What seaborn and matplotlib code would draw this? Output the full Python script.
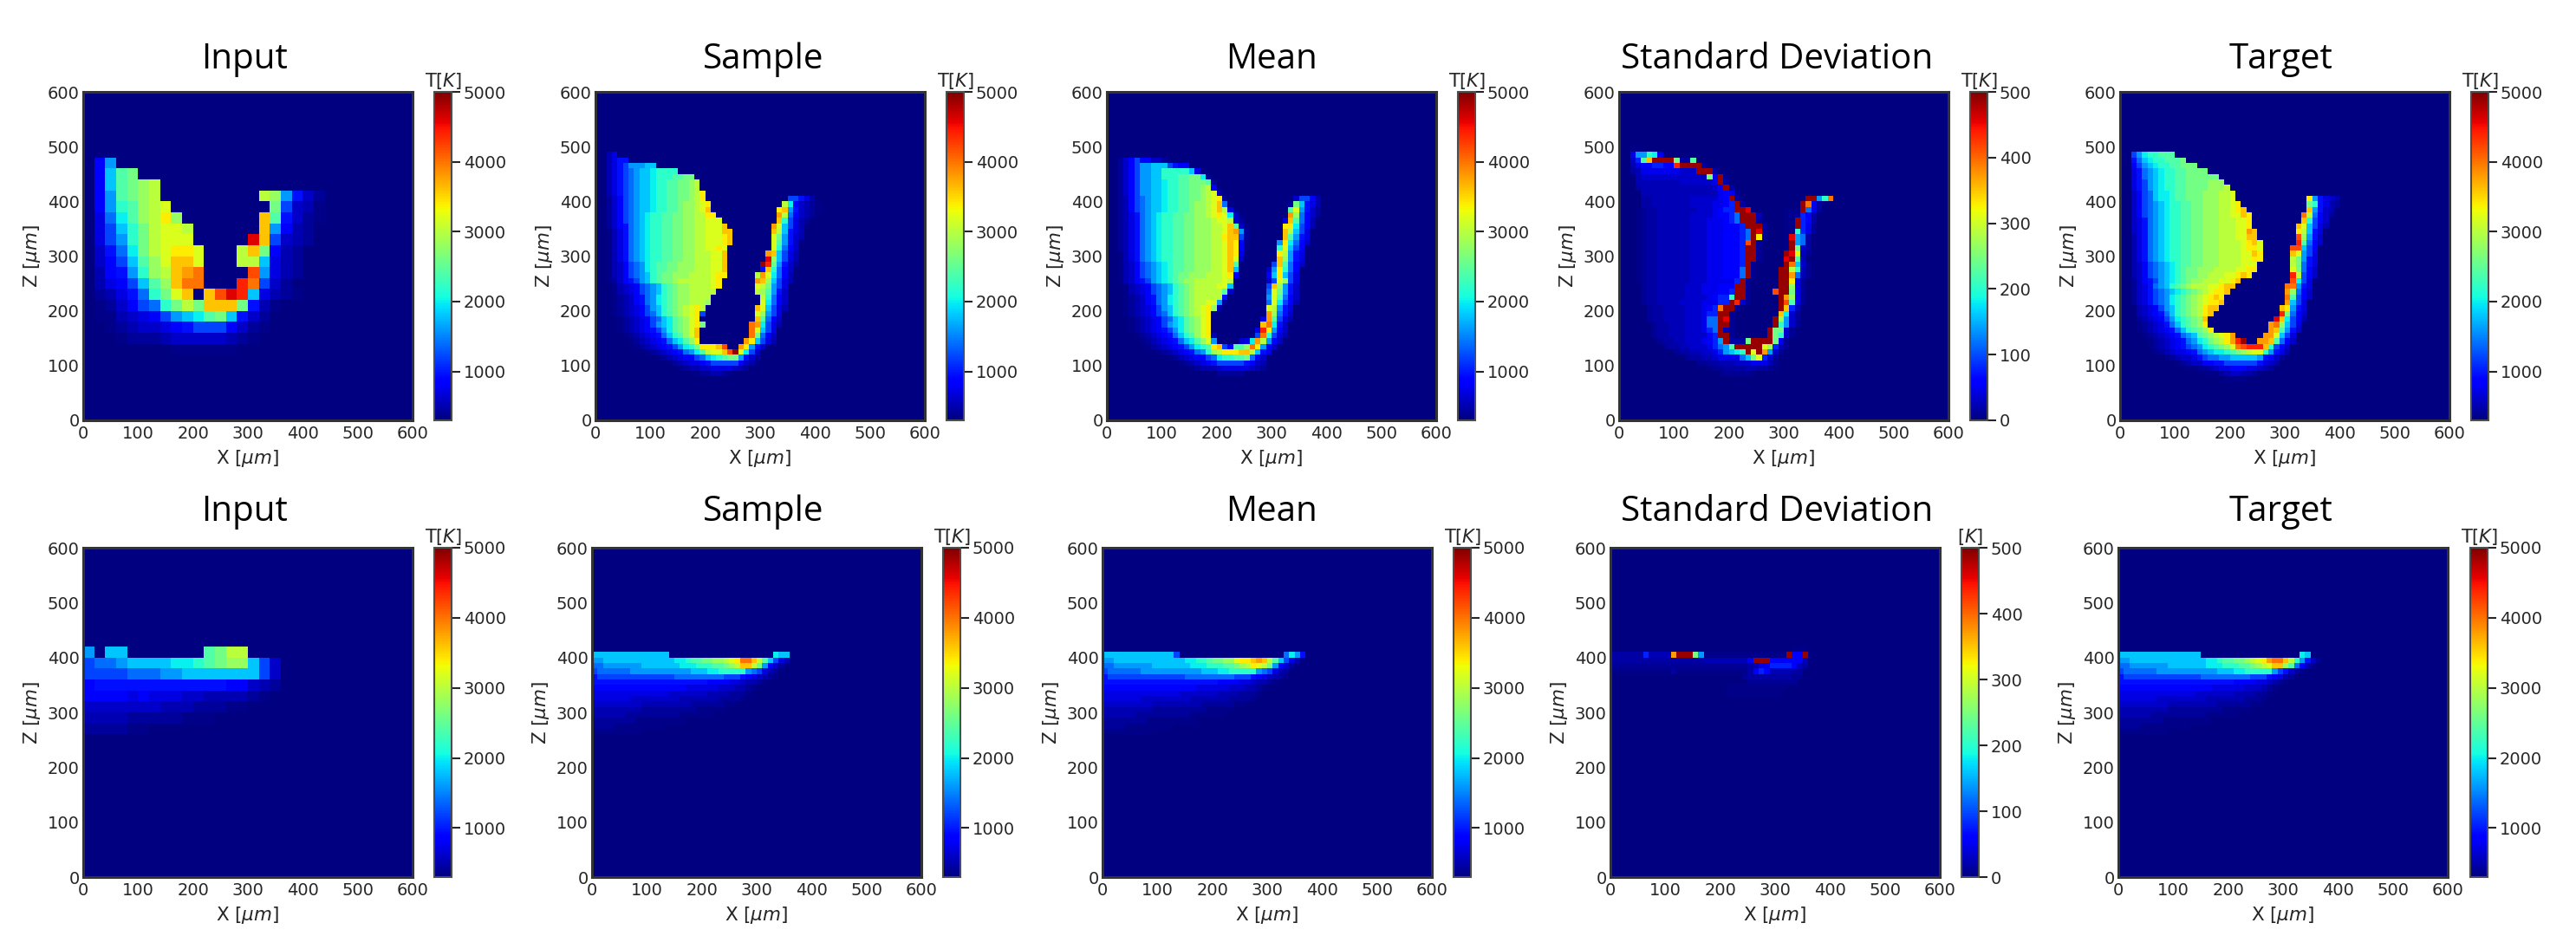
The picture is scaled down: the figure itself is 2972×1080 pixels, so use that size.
import numpy as np
import seaborn as sns
import matplotlib
matplotlib.use('Agg')
import matplotlib.pyplot as plt

sns.set_theme(style='white')

W, H = 2972, 1080

# jet level letters, '.' is the cold background
LEVEL_CHARS = list('.abcdefghijklmnopqrstuvwxyz')
TEMP_LEVELS = [300, 350, 420, 510, 610, 720, 820, 950, 1200, 1400, 1600, 1800, 2000, 2200,
               2400, 2600, 2800, 3000, 3200, 3400, 3600, 3800, 4000, 4200, 4400, 4600, 4900]
STD_LEVELS = [0, 5, 10, 17, 25, 35, 48, 58, 80, 117, 138, 160, 181, 202,
              223, 245, 266, 287, 309, 330, 351, 372, 394, 415, 436, 457, 490]

TITLES = ['Input', 'Sample', 'Mean', 'Standard Deviation', 'Target']
AXIS_TICKS = [0, 100, 200, 300, 400, 500, 600]
TEMP_TICKS = [1000, 2000, 3000, 4000, 5000]
STD_TICKS = [0, 100, 200, 300, 400, 500]

# (row from top, first column, levels)
INPUT_TOP = [
    (6, 1, "fj"), (7, 1, "fkno"), (8, 1, "fknopq"),
    (9, 1, "fjnopq"), (9, 16, "qpjgdb"),
    (10, 1, "fjmnpqr"), (10, 17, "ohdca"),
    (11, 1, "eilnpqsp"), (11, 16, "tngdba"),
    (12, 1, "ehkmoqrrq"), (12, 16, "tjfcb"),
    (13, 1, "ehjmoqrrr"), (13, 15, "ythdcb"),
    (14, 1, "dgiloqrssr"), (14, 14, "qtofcb"),
    (15, 1, "dfhknprttr"), (15, 14, "qqkecb"),
    (16, 1, "cfgjmpqtuv"), (16, 15, "wjecb"),
    (17, 1, "cefhknptvv"), (17, 14, "xvhdb"),
    (18, 1, "bcegimort"), (18, 11, "twyxkecba"),
    (19, 1, "abdfhimoqotttogca"),
    (20, 1, "aacdefhjklnokgdb"),
    (21, 2, "abcddefghhhfdba"),
    (22, 3, "abbbcdddddcba"),
    (23, 8, "aaaaaa"),
]

SAMPLE_TOP = [
    (11, 2, "ce"), (12, 2, "cegg"), (13, 2, "ceghjjjkk"), (14, 2, "ceghijkklmmmm"),
    (15, 2, "ceghijkklmmmnnoo"), (16, 2, "ceghijkklmmnnoopq"), (17, 2, "ceghijkklmmnnoopq"),
    (18, 2, "ceghijkklmmnnoopqs"),
    (19, 2, "bdfhijkklmmnnoopqs"), (19, 35, "hhgec"),
    (20, 2, "bdfhijkklmmnnoppqrs"), (20, 34, "qlfdcba"),
    (21, 2, "bdfhijkklmmnnoppqrt"), (21, 33, "stjgdcba"),
    (22, 2, "bdfhijklmmnnooppqqss"), (22, 33, "uqifdcb"),
    (23, 2, "bdfhijklmmnnooppqqrrr"), (23, 33, "tmhecb"),
    (24, 2, "bdfgijklmmnnooppqqrrrt"), (24, 32, "urkheca"),
    (25, 2, "acegijklmmnnooppqqrrrtt"), (25, 32, "tqkgec"),
    (26, 2, "acegijklmmnnooppqqrrrst"), (26, 32, "rojgdc"),
    (27, 2, "acegijklmmnnooppqqrrrst"), (27, 32, "rnjgd"),
    (28, 2, "acegijklmmnnooppqqrrsr"), (28, 32, "rmifd"),
    (29, 2, "acegijklmmnnooppqqqrrt"), (29, 31, "utkhec"),
    (30, 2, "acegijklmmnnooppqqqrrt"), (30, 31, "ypkhec"),
    (31, 2, "acdfhijlmnnoopppqqqrrt"), (31, 30, "zxojgdb"),
    (32, 2, "acdfhijlmnnoopppqqqrrt"), (32, 30, "gtmifd"),
    (33, 2, "acdfhijkmnoopppqqqqrss"), (33, 29, "qurlifc"),
    (34, 2, "abdfghjkmnoopqqqqqqrs"), (34, 29, "utpkhec"),
    (35, 3, "acdefhijkmnoppqqqqrs"), (35, 29, "rqojhe"),
    (36, 3, "acdefhijkmnoppqqqqq"), (36, 29, "qpnjgd"),
    (37, 3, "abcdfgijlmnoppqqqq"), (37, 29, "aqmifd"),
    (38, 3, "abcdfgijlmnoppqqqp"), (38, 30, "rlifd"),
    (39, 3, "abcdefhjkmnopqrsq"), (39, 29, "trkhec"),
    (40, 3, "abcdefhikmnopqrs"), (40, 19, "h"), (40, 29, "rpjhe"),
    (41, 4, "abcdefhiklnoprs"), (41, 29, "tnifd"),
    (42, 4, "abcdefhjklnoprs"), (42, 19, "o"), (42, 28, "vulhec"),
    (43, 4, "abcdefghjlnoprt"), (43, 28, "vrkhe"),
    (44, 5, "abcdefgikmnprt"), (44, 28, "voifd"),
    (45, 6, "abcdefgiklnps"), (45, 27, "uskhec"),
    (46, 7, "abcdefghjlmo"), (46, 19, "ssstw"), (46, 26, "usjgd"),
    (47, 9, "abcdefgijl"), (47, 19, "nqrrtwzrlhd"),
    (48, 11, "abcdeffhiklmnoojgdb"),
    (49, 13, "abcdeefghhhhhfdca"),
    (50, 15, "abccddeeeedcb"),
    (51, 18, "abbccba"),
]

MEAN_TOP = [
    (12, 2, "bdfhffddb"), (13, 2, "bdfhjjkkkhgff"), (14, 2, "bdfhjjkkmmmmmke"),
    (15, 2, "bdfhjjkkmmmnnoolb"), (16, 2, "bdfhjjkklmmnnooonb"),
    (17, 2, "bdfhjjkklmmnnoopqfa"), (18, 2, "bdfhjjkklmmnnoopqrc"),
    (19, 2, "bcfhijkklmmnnoopqrsb"), (19, 34, "dhhfc"),
    (20, 2, "bcfhijkklmmnnoppqrtia"), (20, 33, "bokgec"),
    (21, 2, "bcfhijkklmmnnoppqrtqea"), (21, 33, "nrjgdb"),
    (22, 2, "bcegijklmmnnooppqrsrlda"), (22, 33, "upifdb"),
    (23, 2, "bcegijklmmnnoopppqrrqdb"), (23, 32, "etnifc"),
    (24, 2, "bcegijklmmnnoopppqqrtnda"), (24, 32, "sslhfc"),
    (25, 2, "bcegijklmmnnoopppqqrtujb"), (25, 32, "tqkhe"),
    (26, 2, "bcegijklmmnnoopppqqstthb"), (26, 32, "tnjge"),
    (27, 2, "bcegijklmmnnoopppqqrtsfa"), (27, 31, "jslifd"),
    (28, 2, "bcegijklmmnnoopppqqrtsfa"), (28, 31, "mrkhf"),
    (29, 2, "acegijklmmnnoopppqqrtse"), (29, 31, "sqjge"),
    (30, 2, "acegijklmmnnoopppqqrtrd"), (30, 31, "tpjge"),
    (31, 2, "acdfhijklmnnoopppqqrtn"), (31, 30, "htnifd"),
    (32, 2, "acdfhijklmnnoopppqqrtk"), (32, 29, "djsmif"),
    (33, 2, "acdfhijklmnoopppqqqrsf"), (33, 29, "fkskhe"),
    (34, 2, "acdfghjklmnoppqqqqqrq"), (34, 29, "dhrphe"),
    (35, 3, "acdefhijkmnopqqqqrrk"), (35, 29, "htpjgd"),
    (36, 3, "acdefhijkmnopqqqqqnd"), (36, 29, "irojgd"),
    (37, 3, "abcdfgijlmnopqqqqqg"), (37, 29, "jrnifd"),
    (38, 3, "abcdfgijlmnopqqrrjb"), (38, 29, "irlhfc"),
    (39, 3, "abcdefhjkmnopqrspc"), (39, 29, "rqjge"),
    (40, 3, "abcdefhikmnopqrsa"), (40, 29, "upigd"),
    (41, 4, "abcdefhiklnoprs"), (41, 28, "eunhec"),
    (42, 4, "abcdefhjklnoprs"), (42, 28, "tvlgd"),
    (43, 4, "abcdefghjlnoprs"), (43, 27, "exsjfd"),
    (44, 5, "abcdefgikmnprsc"), (44, 27, "hvmhec"),
    (45, 6, "abcdefgiklnprj"), (45, 24, "deluqjfd"),
    (46, 7, "abcdefghjlmnsthfnnpvsjfd"),
    (47, 9, "abcdefgijmpqsssttqkge"),
    (48, 11, "abcdeffhilmmnnoifd"),
    (49, 13, "abcdefghhhhhgfdc"),
    (50, 15, "abcccdeeeeedcb"),
    (51, 20, "bbbbb"),
]

STD_TOP = [
    (10, 2, "aa"), (11, 2, "fjjmlf"), (12, 2, "ehntzzzzoccn"), (13, 2, "dfgghhggxzzzzc"),
    (14, 2, "cdfffffffeeezzzc"), (15, 3, "deeeeeeeeeeedofzb"), (16, 3, "ddddddddeeeeeefzc"),
    (17, 3, "cdddddddddddddegzc"), (18, 4, "ddddddddddddddfgfb"),
    (19, 4, "ccdddddddeeeeefgzc"), (19, 34, "zzjmv"),
    (20, 4, "ccdddddddeeeeffghzc"), (20, 33, "zvfc"),
    (21, 3, "abccdddddddeeefghhzzy"), (21, 30, "aaa"), (21, 33, "zifc"),
    (22, 3, "abccddddddeeeefgghizzzd"), (22, 30, "abbhgc"),
    (23, 3, "abccddddddeeefffghizzzc"), (23, 30, "aazhgc"),
    (24, 3, "abccddddddeeefffggghzzzc"), (24, 30, "aazhfb"),
    (25, 3, "abccddddddeeefffggghizyb"), (25, 30, "aamhfb"),
    (26, 3, "abccddddddeeefffggghizsb"), (26, 30, "ayjic"),
    (27, 3, "abccddddddeeefffggghwzb"), (27, 30, "azjic"),
    (28, 3, "abccddddddeeefffggghzzb"), (28, 30, "azoec"),
    (29, 3, "abccddddddeeefffggghzzb"), (29, 30, "zyrdb"),
    (30, 3, "abccddddddeeefffggghzzb"), (30, 30, "yznd"),
    (31, 3, "abccddddddeeefffggghzb"), (31, 30, "zvkeb"),
    (32, 3, "abccddddddeeefffgggizb"), (32, 29, "zzqmdb"),
    (33, 3, "abccddddddeeefffgggizb"), (33, 29, "zzuidb"),
    (34, 3, "abccddddddeeefffffhzb"), (34, 29, "zzsfb"),
    (35, 4, "bccdddddeeefffgggzzb"), (35, 29, "zzpfb"),
    (36, 4, "bccdddddeeefffgghzzb"), (36, 28, "wzzofb"),
    (37, 4, "bccdddddeeeefghhmzzb"), (37, 29, "zupfb"),
    (38, 4, "bccddddeeeefffhhzxeb"), (38, 29, "zwnfb"),
    (39, 5, "bccddddeeefghvzzb"), (39, 29, "zthd"),
    (40, 5, "bccddddeeefhhzzb"), (40, 29, "tleb"),
    (41, 5, "bccddddeeefiizyb"), (41, 28, "zpjeb"),
    (42, 6, "bccdddeeefiizzb"), (42, 28, "zmjeb"),
    (43, 6, "bccdddeeefhizdb"), (43, 27, "zooeb"),
    (44, 6, "bccdddeeeeghzzb"), (44, 27, "zomeb"),
    (45, 7, "bccddeeefghjz"), (45, 20, "ccco"), (45, 24, "zzzzofb"),
    (46, 8, "bccddeeefhijn"), (46, 21, "zzzzzrphdb"),
    (47, 10, "bccddeefhjklmzrzujeb"),
    (48, 12, "bccddeffffikorheb"),
    (49, 14, "bbccdddeeefffdb"),
    (50, 16, "abbccccddccba"),
    (51, 18, "abbbbba"),
]

TARGET_TOP = [
    (11, 2, "hjlmmnnn"), (12, 2, "giklmmnnno"), (13, 2, "fhjklmmnnooo"),
    (14, 2, "egijklmmnnoooo"), (15, 2, "egijklmmnnoooooo"), (16, 2, "eghjklmmnnooooppp"),
    (17, 2, "eghjklmmnnoooopppq"), (18, 2, "dfhikllmnnooopppqqr"),
    (19, 2, "dfhikllmnnooopppqqr"), (19, 34, "sjgedc"),
    (20, 2, "dfhijklmmnnoopppqqrs"), (20, 34, "omgecb"),
    (21, 2, "dfhijklmmnnoopppqqrst"), (21, 34, "tjgdc"),
    (22, 2, "dfhijklmmnnoopppqqrrts"), (22, 33, "vqifdb"),
    (23, 2, "degijklmmnnoopppqqqrrs"), (23, 33, "tmhfd"),
    (24, 2, "degijklmmnnoopppqqqrrs"), (24, 32, "trkhec"),
    (25, 2, "degijklmmnnoopppqqqrrut"), (25, 32, "sqkge"),
    (26, 2, "cegijklmmnnoopppqqqrrtt"), (26, 32, "wpjgd"),
    (27, 2, "cegijklmmnnoopppqqqqrstr"), (27, 32, "xnifd"),
    (28, 2, "cegijklmmnnoopppqqqqrssr"), (28, 31, "wwkhf"),
    (29, 2, "cegijklmmnnoopppqqqqrrts"), (29, 31, "trjhe"),
    (30, 2, "cegijklmmnnoopppqqqqrrss"), (30, 31, "qojge"),
    (31, 2, "cdfhijklmnnoopppqqqqrrr"), (31, 31, "qoige"),
    (32, 2, "cdfhijklmnoopppqqqqrrss"), (32, 31, "roifd"),
    (33, 2, "cdfhijklmnooppqqqrrsts"), (33, 31, "xqhfd"),
    (34, 2, "bdfghjklmnoppqqqrrst"), (34, 31, "wlhe"),
    (35, 2, "bdegijkmnopqqqrrstt"), (35, 30, "vvjge"),
    (36, 2, "bdeghijklmnopqrsst"), (36, 30, "upifd"),
    (37, 2, "bdeghijlmnopqrsts"), (37, 30, "vnhfd"),
    (38, 2, "bdeghijlmnopqrsst"), (38, 30, "ukhe"),
    (39, 3, "cdefhjkmnopqstt"), (39, 29, "tsjge"),
    (40, 3, "cdefgikmnopqst"), (40, 29, "xoifd"),
    (41, 3, "bcdefhjlmnopt"), (41, 28, "ytlhfc"),
    (42, 3, "abcdegikmnops"), (42, 27, "uvpkhe"),
    (43, 3, "abcdefgikmnops"), (43, 27, "utnjgd"),
    (44, 4, "abcdefgijknopqrsu"), (44, 26, "uurkhe"),
    (45, 5, "abcdefgijlmopqsuxz"), (45, 25, "uutnifd"),
    (46, 5, "abcdefghijlmnoprvwxxxtmhfd"),
    (47, 6, "abcdeefgijkllmnopqrrmjgec"),
    (48, 8, "abcddeghiijjkkkkkjgfdb"),
    (49, 10, "abcddffgghhhhhhgedc"),
    (50, 12, "aabbcdeefffeedcb"),
    (51, 15, "aaabcddccba"),
    (52, 19, "aaaa"),
]

INPUT_BOTTOM = [
    (9, 0, "j"), (9, 2, "kk"), (9, 11, "noqq"),
    (10, 0, "hiijkkkkllmnoppkhd"),
    (11, 0, "hhhhiiijjkkkkkkkhd"),
    (12, 0, "fggggggggggggffdcb"),
    (13, 0, "ffffefeeeddccccba"),
    (14, 0, "dddddddcccbbbaa"),
    (15, 0, "ccccbbbbbaaa"),
    (16, 0, "bbbbaa"),
]

SAMPLE_BOTTOM = [
    (19, 0, "kkkkkkkkkkkkkk"), (19, 33, "lkk"),
    (20, 0, "jjkkkkkkkkkkkkkllmnnooppqrsvvtqnkhec"),
    (21, 0, "iijjjjjjjkkkkkkklllmmmnnopqttqojfdb"),
    (22, 0, "hiiiiiijjjjjjjjjjjkkkllmmmmmjihecb"),
    (23, 0, "ghhhhhhhhhhhhhhiiiiiiiiihhhgfedcba"),
    (24, 0, "gggggggggggggggggggggffffeedccba"),
    (25, 0, "fffffffffffffffffeeeeeedddccba"),
    (26, 0, "eeeeeeeeeeeeeedddddddccccbbba"),
    (27, 0, "eeeeeeedddddddddcccccccbbbba"),
    (28, 0, "dddddddddcccccccccbbbbbbaa"),
    (29, 0, "cccccccccbbbbbbbbbbaaaaa"),
    (30, 0, "ccccccbbbbbbbbbbaaaaaa"),
    (31, 0, "bbbbbbbbaaaaaaaaa"),
    (32, 0, "bbbbaaaaaaaaa"),
    (33, 0, "aaaaaaaaa"),
]

MEAN_BOTTOM = [
    (19, 0, "kkkkkkkkkkkkkh"), (19, 33, "iljg"),
    (20, 0, "jjkkkkkkkkkkkkkllmmnoopprsstutqnkhec"),
    (21, 0, "iijjjjjjjkkkkkkklllmmmnnopqsrqojfdb"),
    (22, 0, "hiiiiiijjjjjjjjjjjkkkllmmmmmjihecb"),
    (23, 0, "ghhhhhhhhhhhhhhiiiiiiiiihhhgfedcba"),
    (24, 0, "gggggggggggggggggggggffffeedccba"),
    (25, 0, "fffffffffffffffffeeeeeedddccba"),
    (26, 0, "eeeeeeeeeeeeeedddddddccccbbba"),
    (27, 0, "eeeeeeedddddddddcccccccbbbba"),
    (28, 0, "dddddddddcccccccccbbbbbbaa"),
    (29, 0, "cccccccccbbbbbbbbbbaaaaa"),
    (30, 0, "ccccccbbbbbbbbbbaaaaaa"),
    (31, 0, "bbbbbbbbaaaaaaaaa"),
    (32, 0, "bbbbaaaaaaaaa"),
    (33, 0, "aaaaaaaaa"),
]

STD_BOTTOM = [
    (18, 33, "aaa"),
    (19, 0, "cccccchdddduzzzojaaaaaaaaaaaaaaazggza"),
    (20, 0, "cccccccccccccccccddddddddfzzzggggggd"),
    (21, 0, "bbbbbbbbbbbbbbbbbbbbbbbbbcdffhhhhgdc"),
    (22, 0, "aaaaaaaaaaacaaaaaaaaaaaaacghgddddcc"),
    (23, 24, "bccccccccbb"),
    (24, 25, "bbbbbbbbb"),
    (25, 21, "aaaaaaaaaaa"),
    (26, 21, "aaaaaaaaaa"),
]

TARGET_BOTTOM = [
    (19, 0, "kkkkkkkkkkkkkkk"), (19, 33, "lk"),
    (20, 0, "jjkkkkkkkkkkkkkkllmnnoopqrsuvvtqmjgdb"),
    (21, 0, "iijjjjjjjkkkkkkklllmmmnnopqrttpnifca"),
    (22, 0, "hiiiiiijjjjjjjjjjjkkkllmmmmmjhgdba"),
    (23, 0, "ghhhhhhhhhhhhhhiiiiiiiiihhhgfecb"),
    (24, 0, "gggggggggggggggggggggffffeedcba"),
    (25, 0, "fffffffffffffffffeeeeeedddcba"),
    (26, 0, "eeeeeeeeeeeeeedddddddccccbba"),
    (27, 0, "eeeeeeedddddddddcccccccbbba"),
    (28, 0, "dddddddddcccccccccbbbbbbaa"),
    (29, 0, "cccccccccbbbbbbbbbbaaaaa"),
    (30, 0, "ccccccbbbbbbbbbbaaaaaa"),
    (31, 0, "bbbbbbbbaaaaaaaaa"),
    (32, 0, "bbbbaaaaaaaaa"),
    (33, 0, "aaaaaaaaa"),
]

# pixel layout of each row: axes left, axes width, colorbar left
TOP_BOXES = [(96, 380, 501), (687, 380, 1092), (1277, 380, 1682), (1868, 380, 2273), (2446, 380, 2851)]
BOTTOM_BOXES = [(96, 380, 501), (683, 380, 1088), (1272, 380, 1677), (1858, 380, 2263), (2444, 380, 2850)]
TOP_Y = (106, 485)
BOTTOM_Y = (632, 1012)
# titles line up between the two rows, not with each axes centre
TITLE_CENTERS = [282, 881, 1467, 2050, 2632]


def build_grid(size, rows, levels):
    lookup = dict(zip(LEVEL_CHARS, levels))
    grid = np.full((size, size), float(levels[0]))
    for row, col, chars in rows:
        for i, ch in enumerate(chars):
            grid[row, col + i] = lookup[ch]
    return grid


def px_rect(left, top, width, height):
    return [left / W, 1 - (top + height) / H, width / W, height / H]


def draw_panel(fig, box, y_span, grid, title, title_x, title_pad, is_std, unit):
    left, width, cbar_left = box
    top, bottom = y_span
    ax = fig.add_axes(px_rect(left, top, width, bottom - top))
    cax = fig.add_axes(px_rect(cbar_left, top, 20, bottom - top))
    vmin, vmax, ticks = (0, 500, STD_TICKS) if is_std else (300, 5000, TEMP_TICKS)
    sns.heatmap(grid, ax=ax, cbar_ax=cax, cmap='jet', vmin=vmin, vmax=vmax,
                xticklabels=False, yticklabels=False, cbar_kws={'ticks': ticks})
    n = grid.shape[0]
    pos = [v / 600 * n for v in AXIS_TICKS]
    ax.set_xticks(pos)
    ax.set_xticklabels(AXIS_TICKS, rotation=0)
    ax.set_yticks(pos)
    ax.set_yticklabels(AXIS_TICKS[::-1], rotation=0)
    ax.tick_params(length=0, labelsize=14, pad=3, colors='.15')
    ax.tick_params(axis='x', pad=4)
    ax.set_xlabel('X [$\\mu m$]', fontsize=15.5, labelpad=5.5, color='.15')
    ax.set_ylabel('Z [$\\mu m$]', fontsize=15.5, labelpad=4, color='.15')
    for sp in ax.spines.values():
        sp.set_visible(True)
        sp.set_linewidth(2.2)
        sp.set_color('.2')
    ax.set_title(title, fontsize=29, family='Open Sans', color='black', pad=title_pad,
                 x=(title_x - left) / width)

    cax.tick_params(length=7, width=1.5, labelsize=14, pad=3, colors='.15', right=True)
    cbar = ax.collections[0].colorbar
    cbar.outline.set_visible(True)
    cbar.outline.set_linewidth(1.5)
    cbar.outline.set_edgecolor('.3')
    cax.set_title(unit, fontsize=15, pad=4, color='.15')


fig = plt.figure(figsize=(W / 100, H / 100), dpi=100)

top_rows = [INPUT_TOP, SAMPLE_TOP, MEAN_TOP, STD_TOP, TARGET_TOP]
bottom_rows = [INPUT_BOTTOM, SAMPLE_BOTTOM, MEAN_BOTTOM, STD_BOTTOM, TARGET_BOTTOM]
for i, title in enumerate(TITLES):
    size = 30 if i == 0 else 60
    is_std = title == 'Standard Deviation'
    levels = STD_LEVELS if is_std else TEMP_LEVELS
    draw_panel(fig, TOP_BOXES[i], TOP_Y, build_grid(size, top_rows[i], levels), title,
               TITLE_CENTERS[i], 19.5, is_std, 'T[$K$]')
    unit = '[$K$]' if is_std else 'T[$K$]'
    draw_panel(fig, BOTTOM_BOXES[i], BOTTOM_Y, build_grid(size, bottom_rows[i], levels), title,
               TITLE_CENTERS[i], 22, is_std, unit)

fig.savefig('out.png', dpi=100)
